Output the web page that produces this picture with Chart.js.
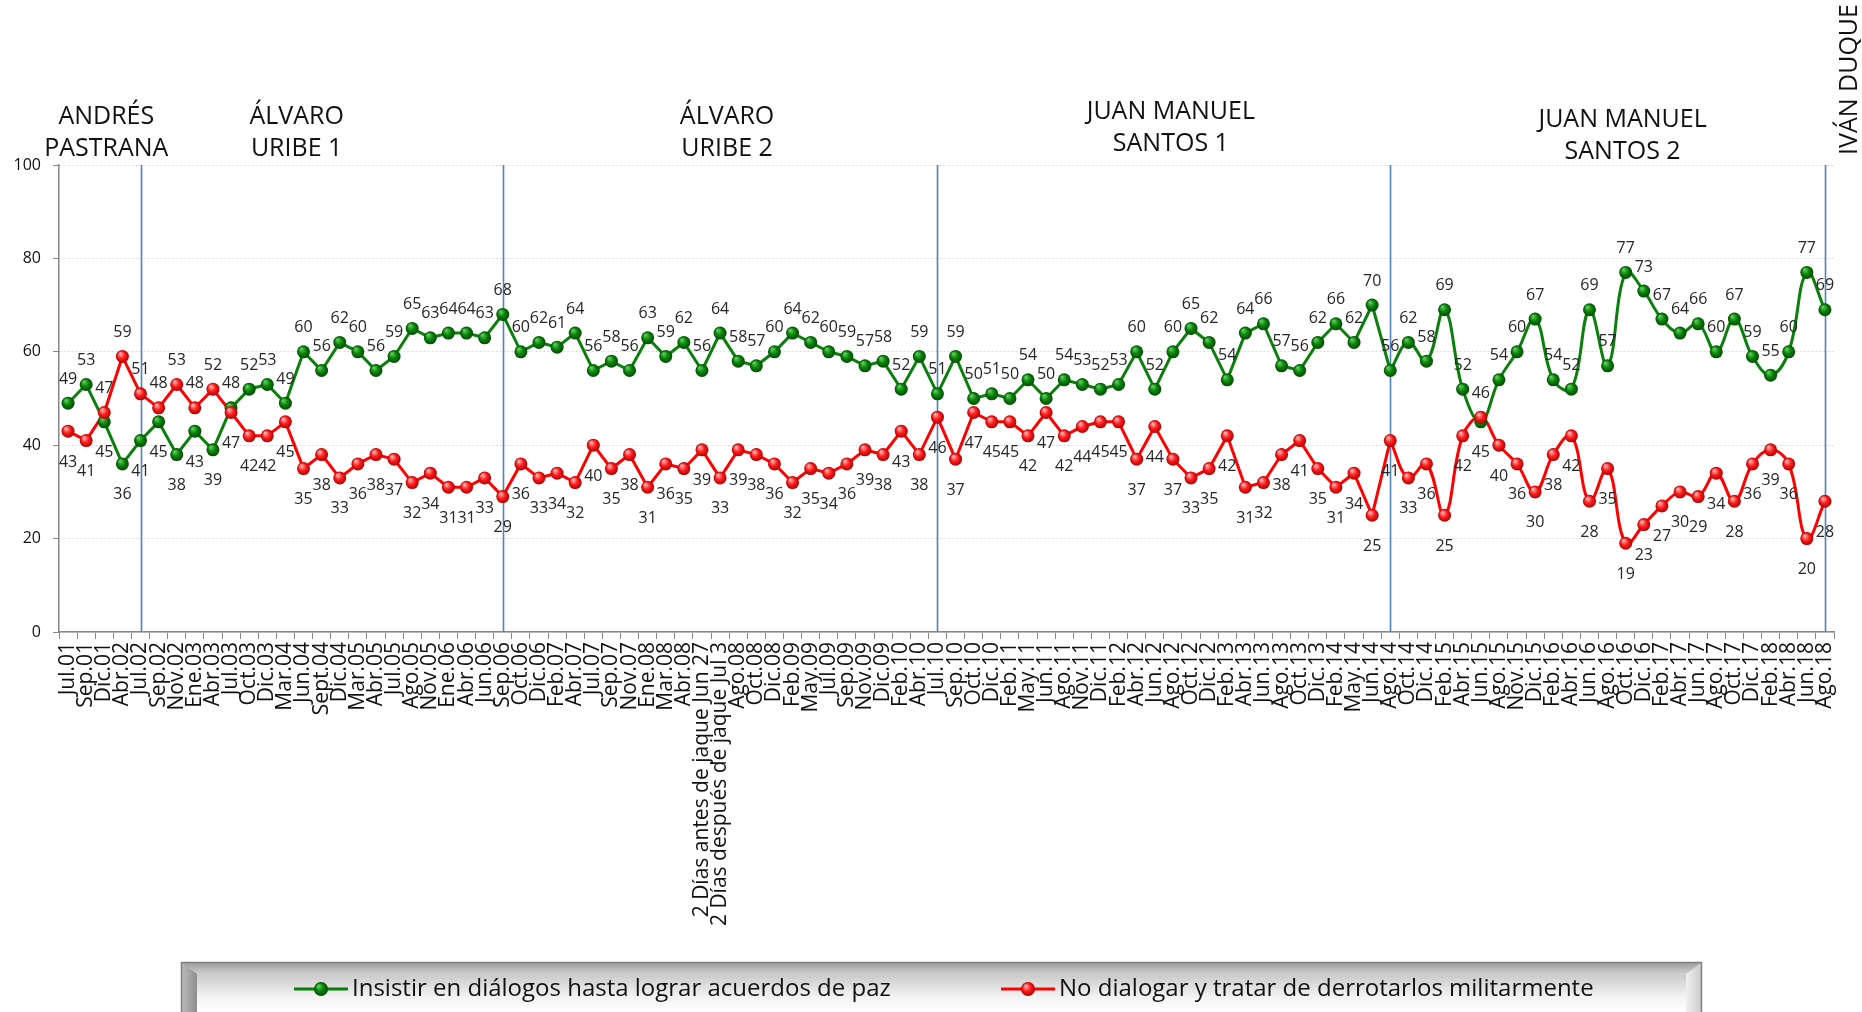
<!DOCTYPE html>
<html>
<head>
<meta charset="utf-8">
<script src="https://cdn.jsdelivr.net/npm/chart.js@4.4.1/dist/chart.umd.min.js"></script>
<style>
  html, body { margin: 0; padding: 0; background: #fff; overflow: hidden; }
</style>
</head>
<body>
<canvas id="chart" width="1862" height="1012"></canvas>
<script>
// Survey dates (one point per poll)
const labels = [
  "Jul.01","Sep.01","Dic.01","Abr.02","Jul.02","Sep.02","Nov.02","Ene.03","Abr.03","Jul.03",
  "Oct.03","Dic.03","Mar.04","Jun.04","Sept.04","Dic.04","Mar.05","Abr.05","Jul.05","Ago.05",
  "Nov.05","Ene.06","Abr.06","Jun.06","Sep.06","Oct.06","Dic.06","Feb.07","Abr.07","Jul.07",
  "Sep.07","Nov.07","Ene.08","Mar.08","Abr.08","2 Días antes de jaque Jun 27","2 Días después de jaque Jul 3","Ago.08","Oct.08","Dic.08",
  "Feb.09","May.09","Jul.09","Sep.09","Nov.09","Dic.09","Feb.10","Abr.10","Jul.10","Sep.10",
  "Oct.10","Dic.10","Feb.11","May.11","Jun.11","Ago.11","Nov.11","Dic.11","Feb.12","Abr.12",
  "Jun.12","Ago.12","Oct.12","Dic.12","Feb.13","Abr.13","Jun.13","Ago.13","Oct.13","Dic.13",
  "Feb.14","May.14","Jun.14","Ago.14","Oct.14","Dic.14","Feb.15","Abr.15","Jun.15","Ago.15",
  "Nov.15","Dic.15","Feb.16","Abr.16","Jun.16","Ago.16","Oct.16","Dic.16","Feb.17","Abr.17",
  "Jun.17","Ago.17","Oct.17","Dic.17","Feb.18","Abr.18","Jun.18","Ago.18"
];

const insistir = [
  49,53,45,36,41,45,38,43,39,48,52,53,49,60,56,62,60,56,59,65,63,64,64,63,68,
  60,62,61,64,56,58,56,63,59,62,56,64,58,57,60,64,62,60,59,57,58,52,59,51,59,50,
  51,50,54,50,54,53,52,53,60,52,60,65,62,54,64,66,57,56,62,66,62,70,56,62,58,
  69,52,45,54,60,67,54,52,69,57,77,73,67,64,66,60,67,59,55,60,77,69
];

const noDialogar = [
  43,41,47,59,51,48,53,48,52,47,42,42,45,35,38,33,36,38,37,32,34,31,31,33,29,
  36,33,34,32,40,35,38,31,36,35,39,33,39,38,36,32,35,34,36,39,38,43,38,46,37,47,
  45,45,42,47,42,44,45,45,37,44,37,33,35,42,31,32,38,41,35,31,34,25,41,33,36,
  25,42,46,40,36,30,38,42,28,35,19,23,27,30,29,34,28,36,39,36,20,28
];

// Government periods and the poll index where each one ends
const gobiernos = ["ANDRÉS\nPASTRANA", "ÁLVARO\nURIBE 1", "ÁLVARO\nURIBE 2", "JUAN MANUEL\nSANTOS 1", "JUAN MANUEL\nSANTOS 2"];
const cortes = [0, 4, 24, 48, 73, 97];
const ultimoGobierno = "IVÁN DUQUE";

const yTicks = [0, 20, 40, 60, 80, 100];

const VERDE = "#0b7f0b";
const ROJO = "#ff0000";
const FONT = "'Open Sans', sans-serif";
const SUAVE_DESDE = 73; // lines are smoothed from this poll on

Chart.defaults.font.family = FONT;

function sphere(ctx, x, y, r, tones){
  const g = ctx.createRadialGradient(x - r*0.35, y - r*0.45, r*0.1, x, y, r);
  g.addColorStop(0, tones[0]);
  g.addColorStop(0.5, tones[1]);
  g.addColorStop(1, tones[2]);
  ctx.beginPath();
  ctx.arc(x, y, r, 0, Math.PI*2);
  ctx.fillStyle = g;
  ctx.fill();
}
const TONO_VERDE = ["#5ccb5c", "#0a840a", "#004a00"];
const TONO_ROJO = ["#ffb3b3", "#ff1f1f", "#b00000"];

// Vertical separators between governments
const separadores = {
  id: 'separadores',
  beforeDatasetsDraw(chart){
    const {ctx, chartArea, scales:{x}} = chart;
    ctx.save();
    ctx.strokeStyle = "#4f81bd";
    ctx.lineWidth = 1.6;
    cortes.slice(1).forEach(i=>{
      const px = Math.round(x.getPixelForValue(i)) + 0.5;
      ctx.beginPath();
      ctx.moveTo(px, chartArea.top);
      ctx.lineTo(px, chartArea.bottom);
      ctx.stroke();
    });
    ctx.restore();
  }
};

// Glossy markers and value labels
const marcas = {
  id: 'marcas',
  afterDatasetsDraw(chart){
    const ctx = chart.ctx;
    const series = [[0, TONO_VERDE], [1, TONO_ROJO]];
    ctx.save();
    series.forEach(([d, tones])=>{
      chart.getDatasetMeta(d).data.forEach(pt => sphere(ctx, pt.x, pt.y, 6.5, tones));
    });
    ctx.font = "16px " + FONT;
    ctx.fillStyle = "#262626";
    ctx.textAlign = "center";
    ctx.textBaseline = "middle";
    const gMeta = chart.getDatasetMeta(0).data;
    const rMeta = chart.getDatasetMeta(1).data;
    insistir.forEach((g, i)=>{
      const r = noDialogar[i];
      const gUp = g >= r;
      ctx.fillText(g, gMeta[i].x, gMeta[i].y + (gUp ? -24 : 31));
      ctx.fillText(r, rMeta[i].x, rMeta[i].y + (gUp ? 31 : -24));
    });
    ctx.restore();
  }
};

// Period titles above the plot and the bevelled legend below
const rotulos = {
  id: 'rotulos',
  afterDraw(chart){
    const {ctx, chartArea, scales:{x}} = chart;
    ctx.save();
    ctx.fillStyle = "#111";
    ctx.font = "25px " + FONT;
    ctx.textAlign = "center";
    ctx.textBaseline = "alphabetic";
    const dx = [2, -25, 7, 7, 15];
    const dy = [0, 0, 0, -5, 3];
    gobiernos.forEach((t, k)=>{
      const cx = x.getPixelForValue((cortes[k] + cortes[k+1]) / 2) + dx[k];
      t.split("\n").forEach((line, j)=>{
        ctx.fillText(line, cx, 124 + dy[k] + j*32);
      });
    });
    // last government, written upward next to its separator
    const lx = x.getPixelForValue(cortes[cortes.length-1]) + 25;
    ctx.translate(lx, chartArea.top - 10);
    ctx.rotate(-Math.PI/2);
    ctx.textAlign = "left";
    ctx.textBaseline = "middle";
    ctx.fillText(ultimoGobierno, 0, 0);
    ctx.restore();

    drawLegend(ctx, chart);
  }
};

function drawLegend(ctx, chart){
  const x0 = 181, x1 = 1702, y0 = 962, y1 = chart.height + 20;
  const bev = 16;
  ctx.save();
  // frame
  let g = ctx.createLinearGradient(0, y0, 0, y0 + 14);
  g.addColorStop(0, "#9a9a9a");
  g.addColorStop(1, "#d8d8d8");
  ctx.fillStyle = g;
  ctx.fillRect(x0, y0, x1 - x0, y1 - y0);
  // left bevel face
  g = ctx.createLinearGradient(x0, 0, x0 + bev, 0);
  g.addColorStop(0, "#bdbdbd");
  g.addColorStop(1, "#8e8e8e");
  ctx.fillStyle = g;
  ctx.beginPath();
  ctx.moveTo(x0, y0); ctx.lineTo(x0 + bev, y0 + 12); ctx.lineTo(x0 + bev, y1); ctx.lineTo(x0, y1);
  ctx.closePath(); ctx.fill();
  // right bevel face
  g = ctx.createLinearGradient(x1 - bev, 0, x1, 0);
  g.addColorStop(0, "#f0f0f0");
  g.addColorStop(1, "#c8c8c8");
  ctx.fillStyle = g;
  ctx.beginPath();
  ctx.moveTo(x1, y0); ctx.lineTo(x1 - bev, y0 + 12); ctx.lineTo(x1 - bev, y1); ctx.lineTo(x1, y1);
  ctx.closePath(); ctx.fill();
  // face
  g = ctx.createLinearGradient(0, y0 + 12, 0, chart.height);
  g.addColorStop(0, "#c9c9c9");
  g.addColorStop(0.6, "#f3f3f3");
  g.addColorStop(1, "#ffffff");
  ctx.fillStyle = g;
  ctx.fillRect(x0 + bev, y0 + 12, x1 - x0 - 2*bev, y1 - y0 - 12);
  // outline
  ctx.strokeStyle = "#7f7f7f";
  ctx.lineWidth = 1.5;
  ctx.strokeRect(x0 + 0.5, y0 + 0.5, x1 - x0 - 1, y1 - y0);

  const items = [
    {cx: 321, color: VERDE, tones: TONO_VERDE, text: chart.data.datasets[0].label},
    {cx: 1028, color: ROJO, tones: TONO_ROJO, text: chart.data.datasets[1].label}
  ];
  const ly = 989;
  ctx.font = "24px " + FONT;
  ctx.textBaseline = "middle";
  ctx.textAlign = "left";
  items.forEach(it=>{
    ctx.strokeStyle = it.color;
    ctx.lineWidth = 3;
    ctx.beginPath();
    ctx.moveTo(it.cx - 27, ly); ctx.lineTo(it.cx + 27, ly);
    ctx.stroke();
    sphere(ctx, it.cx, ly, 7, it.tones);
    ctx.fillStyle = "#111";
    ctx.fillText(it.text, it.cx + 31, ly);
  });
  ctx.restore();
}

const hideSmooth = c => c.p0DataIndex >= SUAVE_DESDE ? "rgba(0,0,0,0)" : undefined;
const smoothPart = arr => arr.map((v, i) => i >= SUAVE_DESDE ? v : null);

new Chart(document.getElementById("chart"), {
  type: 'line',
  data: {
    labels: labels,
    datasets: [
      {label: 'Insistir en diálogos hasta lograr acuerdos de paz', data: insistir,
       borderColor: VERDE, borderWidth: 3, pointRadius: 0, tension: 0, segment: {borderColor: hideSmooth}},
      {label: 'No dialogar y tratar de derrotarlos militarmente', data: noDialogar,
       borderColor: ROJO, borderWidth: 3, pointRadius: 0, tension: 0, segment: {borderColor: hideSmooth}},
      {data: smoothPart(insistir), borderColor: VERDE, borderWidth: 3, pointRadius: 0, tension: 0.4},
      {data: smoothPart(noDialogar), borderColor: ROJO, borderWidth: 3, pointRadius: 0, tension: 0.4}
    ]
  },
  options: {
    responsive: false,
    animation: false,
    events: [],
    layout: {padding: {top: 165, right: 28, left: 0, bottom: 0}},
    plugins: {legend: {display: false}, tooltip: {enabled: false}},
    scales: {
      x: {
        offset: true,
        grid: {offset: true, drawOnChartArea: false, color: "#868686", tickLength: 7},
        border: {color: "#868686", width: 1.5},
        ticks: {autoSkip: false, minRotation: 90, maxRotation: 90, padding: 3, color: "#111",
                font: {size: 21}},
        afterFit: s => { s.height = 380; }
      },
      y: {
        min: 0, max: 100,
        afterBuildTicks: s => { s.ticks = yTicks.map(v => ({value: v})); },
        ticks: {color: "#111", font: {size: 16}, padding: 12},
        grid: {color: "#dadada", tickColor: "#868686", tickLength: 6, tickBorderDash: []},
        border: {color: "#868686", width: 1.5, dash: [2, 2]},
        afterFit: s => { s.width = 59; }
      }
    }
  },
  plugins: [separadores, marcas, rotulos]
});
</script>
</body>
</html>
